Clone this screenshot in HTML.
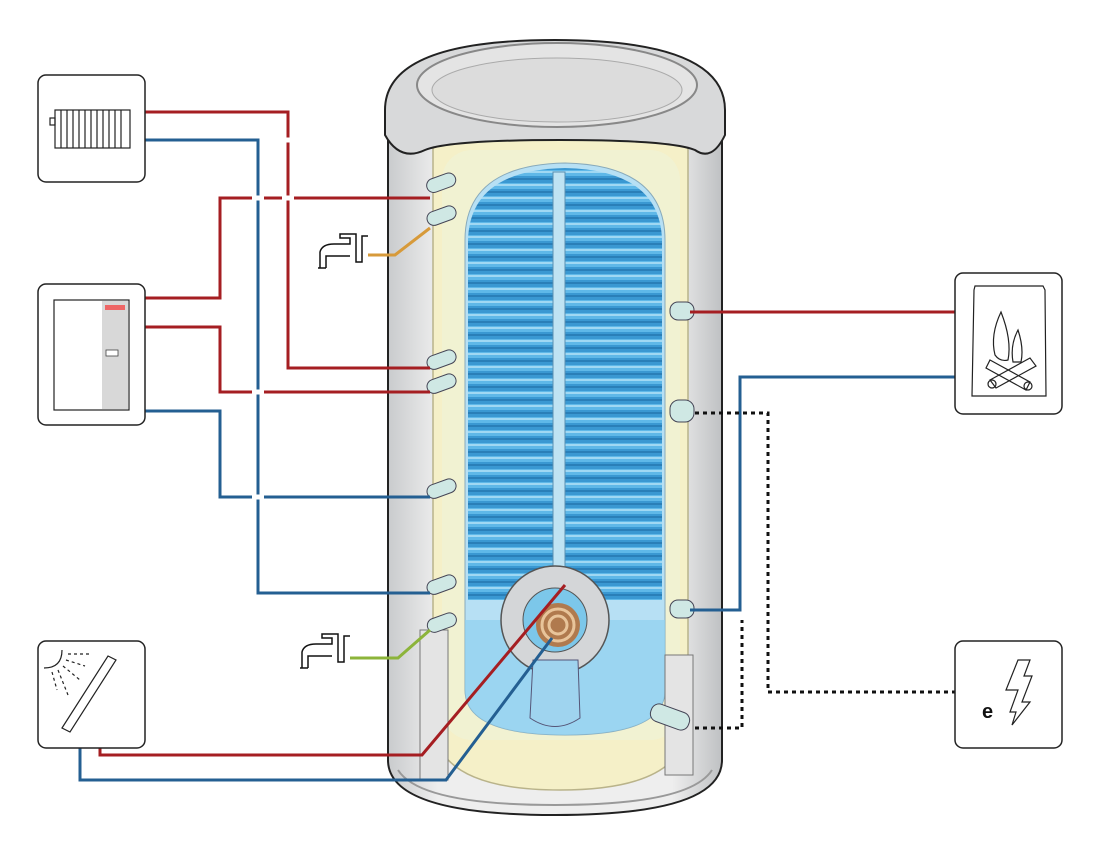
<!DOCTYPE html>
<html><head><meta charset="utf-8"><style>html,body{margin:0;padding:0;background:#fff}svg{display:block}</style></head>
<body>
<svg width="1100" height="851" viewBox="0 0 1100 851" xmlns="http://www.w3.org/2000/svg">
<defs>
<pattern id="coil" x="0" y="0" width="20" height="13" patternUnits="userSpaceOnUse">
<rect width="20" height="13" fill="#3a98d2"/>
<rect y="1" width="20" height="6" fill="#5fb8e8"/>
<rect y="2" width="20" height="2" fill="#a0d8f3"/>
<rect y="9" width="20" height="2" fill="#2a7fb8"/>
</pattern>
<linearGradient id="shell" x1="0" x2="1">
<stop offset="0" stop-color="#c9cbcd"/><stop offset="0.15" stop-color="#eeeeee"/><stop offset="0.85" stop-color="#eeeeee"/><stop offset="1" stop-color="#bfc1c3"/>
</linearGradient>
</defs>

<!-- tank shell -->
<path d="M388 120 L388 760 Q388 815 555 815 Q722 815 722 760 L722 120 Z" fill="url(#shell)" stroke="#222" stroke-width="2"/>
<path d="M398 770 Q420 805 555 805 Q690 805 712 770" fill="none" stroke="#999" stroke-width="2"/>
<!-- insulation -->
<path d="M433 140 L433 720 Q433 790 560 790 Q688 790 688 720 L688 140 Z" fill="#f5f0c8" stroke="#b9b38a" stroke-width="1.5"/>
<rect x="442" y="150" width="238" height="590" rx="30" fill="#eef3d8" opacity="0.6"/>
<!-- inner tank -->
<path d="M465 240 Q465 165 565 163 Q665 165 665 240 L665 690 Q665 735 565 735 Q465 735 465 690 Z" fill="#b7e0f4" stroke="#8ab" stroke-width="1"/>
<!-- coils -->
<path d="M468 240 Q470 170 565 168 Q660 170 662 240 L662 600 L468 600 Z" fill="url(#coil)"/>
<!-- water bottom -->
<path d="M465 620 L665 620 L665 690 Q665 735 565 735 Q465 735 465 690 Z" fill="#8fd0f0" opacity="0.7"/>
<!-- rod -->
<rect x="553" y="172" width="12" height="400" fill="#bfe3f3" stroke="#5a8fb0"/>
<!-- flange -->
<circle cx="555" cy="620" r="54" fill="#d4d6d8" stroke="#555" stroke-width="1.5"/>
<path d="M533 660 L530 718 Q555 735 580 718 L578 660 Z" fill="#9fd4ef" stroke="#557"/>
<circle cx="555" cy="620" r="32" fill="#7cc7ea" stroke="#555"/>
<circle cx="558" cy="625" r="22" fill="#b07a4e"/>
<circle cx="558" cy="625" r="16" fill="none" stroke="#e8c49a" stroke-width="3"/>
<circle cx="558" cy="625" r="9" fill="none" stroke="#e8c49a" stroke-width="3"/>
<!-- legs -->
<rect x="420" y="630" width="28" height="150" fill="#e4e4e4" stroke="#777"/>
<rect x="665" y="655" width="28" height="120" fill="#e4e4e4" stroke="#777"/>
<!-- lid -->
<path d="M385 110 Q385 40 555 40 Q725 40 725 110 L725 135 Q712 162 695 150 Q670 140 560 140 Q450 140 425 150 Q400 162 385 135 Z" fill="#d8d9da" stroke="#222" stroke-width="2"/>
<ellipse cx="557" cy="85" rx="140" ry="42" fill="#e4e4e4" stroke="#888" stroke-width="2"/>
<ellipse cx="557" cy="90" rx="125" ry="32" fill="#dcdcdc" stroke="#aaa"/>
<!-- nozzles left -->
<g fill="#cfe8e4" stroke="#445">
<rect x="428" y="180" width="30" height="14" rx="7" transform="rotate(-20 430 190)"/>
<rect x="428" y="213" width="30" height="14" rx="7" transform="rotate(-20 430 222)"/>
<rect x="428" y="357" width="30" height="14" rx="7" transform="rotate(-20 430 366)"/>
<rect x="428" y="381" width="30" height="14" rx="7" transform="rotate(-20 430 390)"/>
<rect x="428" y="486" width="30" height="14" rx="7" transform="rotate(-20 430 495)"/>
<rect x="428" y="582" width="30" height="14" rx="7" transform="rotate(-20 430 591)"/>
<rect x="428" y="620" width="30" height="14" rx="7" transform="rotate(-20 430 628)"/>
<rect x="670" y="302" width="24" height="18" rx="8"/>
<rect x="670" y="400" width="24" height="22" rx="9"/>
<rect x="670" y="600" width="24" height="18" rx="8"/>
<rect x="650" y="708" width="40" height="18" rx="8" transform="rotate(20 670 717)"/>
</g>

<!-- taps -->
<g fill="none" stroke="#111" stroke-width="1.5">
<path d="M320 268 L320 252 Q322 244 334 244 L350 244 L350 238 L340 238 L340 234 L356 234 L356 262 L362 262 L362 236 L368 236"/>
<path d="M318 268 L326 268 M326 268 L326 256 L350 256"/>
<path d="M302 668 L302 652 Q304 644 316 644 L332 644 L332 638 L322 638 L322 634 L338 634 L338 662 L344 662 L344 636 L350 636"/>
<path d="M300 668 L308 668 M308 668 L308 656 L332 656"/>
</g>

<!-- connectors -->
<g fill="none" stroke-width="3">
<path d="M145 112 L288 112 L288 368 L430 368" stroke="#a51e22"/>
<path d="M145 140 L258 140 L258 593 L430 593" stroke="#245f92"/>
<path d="M145 298 L220 298 L220 198 L430 198" stroke="#a51e22"/>
<path d="M145 327 L220 327 L220 392 L430 392" stroke="#a51e22"/>
<path d="M145 411 L220 411 L220 497 L430 497" stroke="#245f92"/>
<path d="M368 255 L395 255 L430 228" stroke="#d79a3a"/>
<path d="M350 658 L398 658 L430 630" stroke="#8cb43a"/>
<path d="M100 690 L100 755 L422 755 L565 585" stroke="#a51e22"/>
<path d="M80 700 L80 780 L446 780 L552 638" stroke="#245f92"/>
<path d="M690 312 L955 312" stroke="#a51e22"/>
<path d="M955 377 L740 377 L740 610 L690 610" stroke="#245f92"/>
<path d="M695 413 L768 413 L768 692 L955 692" stroke="#111" stroke-dasharray="4 4"/>
<path d="M695 728 L742 728 L742 620" stroke="#111" stroke-dasharray="4 4"/>
</g>
<!-- crossing gaps -->
<g stroke="#fff" stroke-width="5">
<line x1="252" y1="198" x2="264" y2="198"/>
<line x1="282" y1="198" x2="294" y2="198"/>
<line x1="252" y1="392" x2="264" y2="392"/>
<line x1="252" y1="497" x2="264" y2="497"/>
<line x1="282" y1="140" x2="294" y2="140"/>
</g>

<!-- boxes -->
<g fill="#fff" stroke="#222" stroke-width="1.5">
<rect x="38" y="75" width="107" height="107" rx="8"/>
<rect x="38" y="284" width="107" height="141" rx="8"/>
<rect x="38" y="641" width="107" height="107" rx="8"/>
<rect x="955" y="273" width="107" height="141" rx="8"/>
<rect x="955" y="641" width="107" height="107" rx="8"/>
</g>
<!-- radiator -->
<g fill="none" stroke="#222" stroke-width="1.2">
<rect x="55" y="110" width="75" height="38"/>
<path d="M61 110 V148 M67 110 V148 M73 110 V148 M79 110 V148 M85 110 V148 M91 110 V148 M97 110 V148 M103 110 V148 M109 110 V148 M115 110 V148 M121 110 V148"/>
<rect x="50" y="118" width="5" height="7"/>
</g>
<!-- heat pump -->
<rect x="54" y="300" width="75" height="110" fill="#fff" stroke="#222" stroke-width="1.2"/>
<rect x="102" y="301" width="26" height="108" fill="#d8d8d8"/>
<rect x="105" y="305" width="20" height="5" fill="#e66"/>
<rect x="106" y="350" width="12" height="6" fill="#fff" stroke="#444" stroke-width="0.8"/>
<!-- solar -->
<g fill="none" stroke="#222" stroke-width="1.2">
<path d="M62 728 L108 656 L116 660 L70 732 Z"/>
<path d="M62 650 Q62 668 44 668"/>
<path d="M68 654 L92 654 M66 660 L85 666 M63 666 L80 680 M58 670 L68 695 M52 672 L57 690" stroke-dasharray="3 3"/>
</g>
<!-- fire -->
<g fill="none" stroke="#222" stroke-width="1.2">
<path d="M974 290 L975 286 L1043 286 L1045 290 L1046 396 L972 396 Z"/>
<path d="M1001 312 Q990 335 995 355 Q1000 362 1008 360 Q1012 340 1001 312 Z"/>
<path d="M1018 330 Q1010 345 1013 362 L1021 362 Q1024 348 1018 330 Z"/>
<path d="M990 380 L1030 358 L1036 366 L996 388 Z"/>
<path d="M990 360 L1030 382 L1026 390 L986 368 Z"/>
<circle cx="992" cy="384" r="4"/><circle cx="1028" cy="386" r="4"/>
</g>
<!-- electric -->
<text x="982" y="718" font-family="Liberation Sans, sans-serif" font-size="20" font-weight="bold" fill="#111">e</text>
<path d="M1018 660 L1006 690 L1018 690 L1010 712 L1016 712 L1012 725 L1030 702 L1022 702 L1032 676 L1024 676 L1030 660 Z" fill="none" stroke="#222" stroke-width="1.2"/>
</svg>
</body></html>
